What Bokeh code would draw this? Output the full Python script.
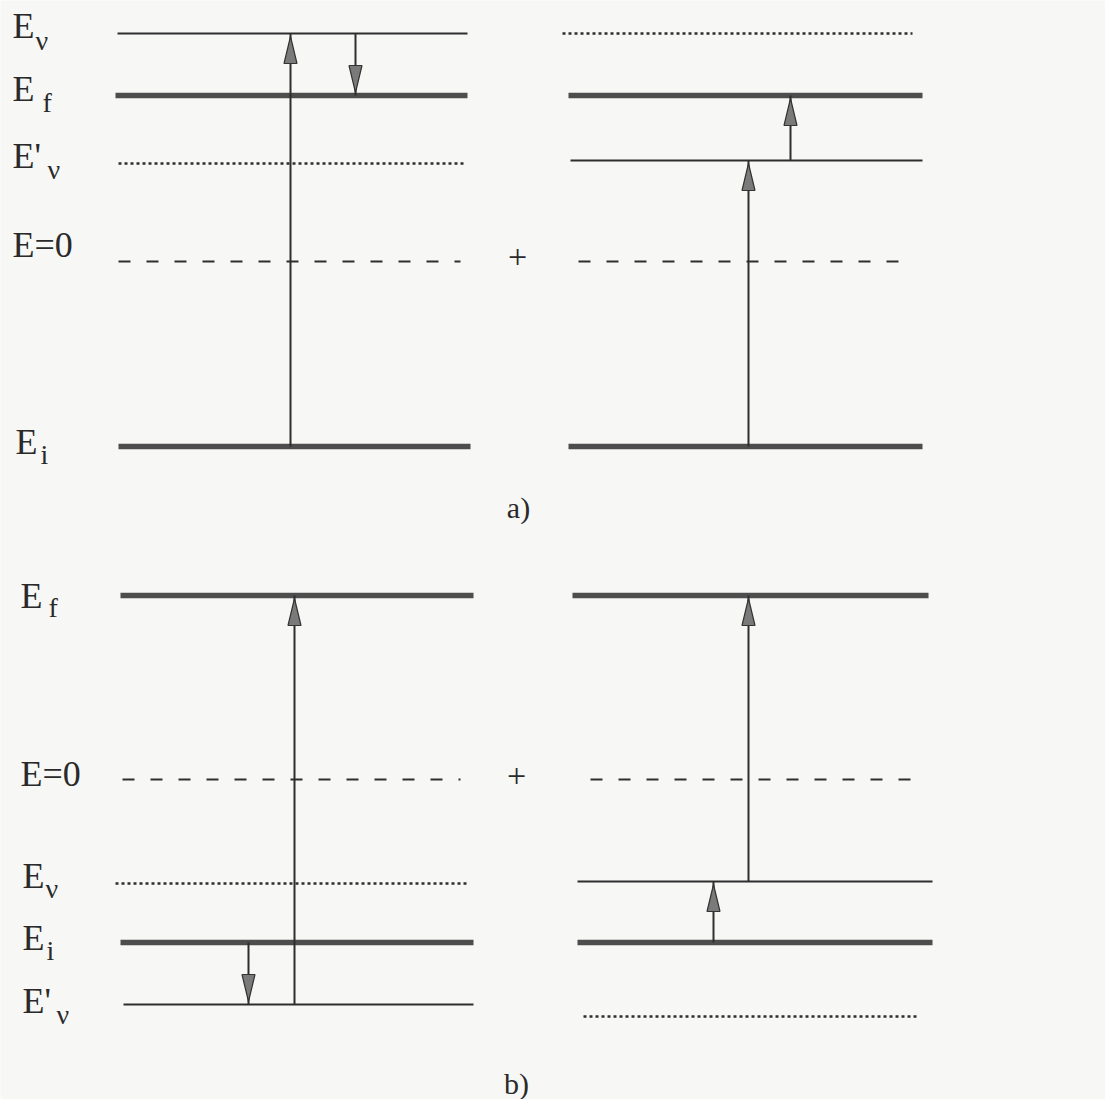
from bokeh.plotting import figure
from bokeh.models import Range1d, ColumnDataSource
from bokeh.embed import file_html
from bokeh.resources import INLINE
from bokeh.core.properties import value

# ---------------- data (page coordinates of the energy-level diagram) -------------
# energy levels: (x_start, x_end, y, kind)
LEVELS = [
    # panel a), left
    (117, 467, 33, "thin"), (115, 467, 95, "thick"), (118, 466, 163, "dotted"),
    (118, 460, 261, "dashed"), (118, 470, 446, "thick"),
    # panel a), right
    (562, 912, 33, "dotted"), (568, 922, 95, "thick"), (570, 922, 160, "thin"),
    (578, 912, 261, "dashed"), (568, 922, 446, "thick"),
    # panel b), left
    (120, 473, 595, "thick"), (122, 460, 779, "dashed"), (115, 467, 883, "dotted"),
    (120, 473, 942, "thick"), (123, 473, 1004, "thin"),
    # panel b), right
    (572, 928, 595, "thick"), (590, 922, 779, "dashed"), (577, 932, 881, "thin"),
    (577, 932, 942, "thick"), (583, 917, 1016, "dotted"),
]

# transitions: (x, y_from, y_to)
ARROWS = [
    (290, 446, 33), (355, 33, 95),
    (748, 446, 160), (790, 160, 95),
    (294, 1004, 595), (248, 942, 1004),
    (748, 881, 595), (713, 942, 881),
]

# level labels: (x, y_centre, main, sub, x_sub, y_sub_centre)
LABELS = [
    (12, 25, "E", "ν", 35, 40),
    (12, 88, "E", "f", 42, 102),
    (12, 155, "E'", "ν", 47, 169),
    (12, 244, "E=0", "", 0, 0),
    (15, 441, "E", "i", 40, 454),
    (20, 595, "E", "f", 48, 607),
    (20, 773, "E=0", "", 0, 0),
    (22, 875, "E", "ν", 45, 888),
    (22, 937, "E", "i", 46, 950),
    (22, 1000, "E'", "ν", 56, 1014),
]
PLUS = [(517, 256), (516, 775)]
PANEL_TAGS = [(518, 507, "a)"), (516, 1083, "b)")]

# ---------------- styles -------------------------------------------------------------
STYLE = {
    "thin":   dict(line_width=2.2, line_color="#2e2e2e", line_dash="solid"),
    "thick":  dict(line_width=5.5, line_color="#4d4d4d", line_dash="solid"),
    "dotted": dict(line_width=2.6, line_color="#2e2e2e", line_dash="3 3"),
    "dashed": dict(line_width=1.8, line_color="#2e2e2e", line_dash="12 16"),
}
HEAD_LEN, HEAD_W = 27, 13
FONT = value("Liberation Serif")
TXT = "#2a2a2a"

W, H = 1105, 1099
p = figure(width=W, height=H, x_range=Range1d(0, W), y_range=Range1d(H, 0),
           output_backend="svg", toolbar_location=None, min_border=0)
p.axis.visible = False
p.grid.visible = False
p.outline_line_color = None
p.background_fill_color = "#f7f7f6"
p.border_fill_color = "#f7f7f6"

for kind, st in STYLE.items():
    sel = [l for l in LEVELS if l[3] == kind]
    src = ColumnDataSource(dict(x0=[l[0] for l in sel], x1=[l[1] for l in sel],
                                y=[l[2] for l in sel]))
    p.segment(x0="x0", y0="y", x1="x1", y1="y", source=src, **st)

# arrow shafts
p.segment(x0=[a[0] for a in ARROWS], y0=[a[1] for a in ARROWS],
          x1=[a[0] for a in ARROWS], y1=[a[2] for a in ARROWS],
          line_width=2, line_color="#2e2e2e")
# arrow heads
xs, ys = [], []
for x, y0, y1 in ARROWS:
    d = 1 if y1 > y0 else -1
    tip = y1 - d * 3
    base = tip - d * HEAD_LEN
    xs.append([x, x - HEAD_W / 2, x + HEAD_W / 2])
    ys.append([tip, base, base])
p.patches(xs, ys, fill_color="#7a7a7a", line_color="#333333", line_width=1.2)

# labels
p.text(x=[l[0] for l in LABELS], y=[l[1] for l in LABELS], text=[l[2] for l in LABELS],
       text_font=FONT, text_font_size="36px", text_color=TXT,
       text_baseline="middle", text_align="left")
subs = [l for l in LABELS if l[3]]
p.text(x=[l[4] for l in subs], y=[l[5] for l in subs], text=[l[3] for l in subs],
       text_font=FONT, text_font_size="28px", text_color=TXT,
       text_baseline="middle", text_align="left")
p.text(x=[q[0] for q in PLUS], y=[q[1] for q in PLUS], text=["+"] * len(PLUS),
       text_font=FONT, text_font_size="34px", text_color=TXT,
       text_baseline="middle", text_align="center")
p.text(x=[t[0] for t in PANEL_TAGS], y=[t[1] for t in PANEL_TAGS], text=[t[2] for t in PANEL_TAGS],
       text_font=FONT, text_font_size="30px", text_color=TXT,
       text_baseline="middle", text_align="center")

open("out.html", "w").write(file_html(p, INLINE))
